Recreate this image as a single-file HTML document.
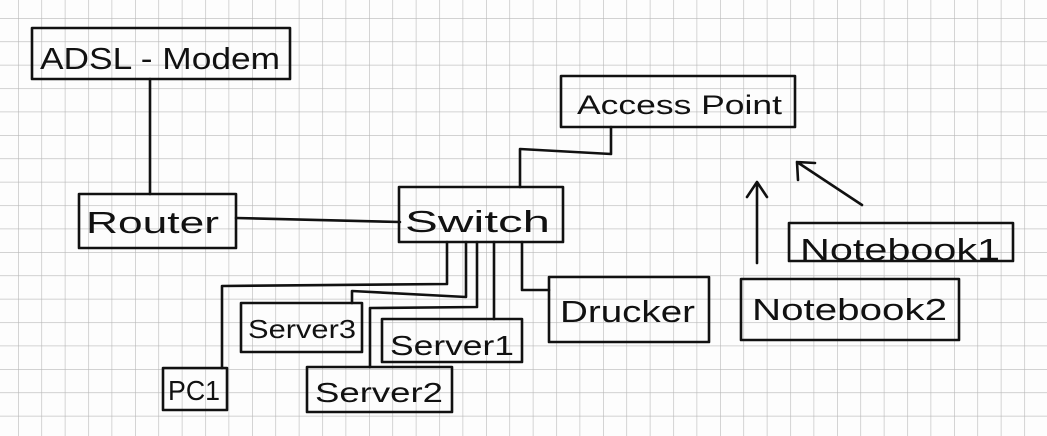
<!DOCTYPE html>
<html><head><meta charset="utf-8"><style>
html,body{margin:0;padding:0;background:#fff;}
svg{display:block}
text{font-family:"Liberation Sans",sans-serif;fill:#111;}
</style></head><body>
<svg width="1047" height="436" viewBox="0 0 1047 436" xmlns="http://www.w3.org/2000/svg">
<defs>
<pattern id="g" x="18" y="18" width="23.4" height="23.4" patternUnits="userSpaceOnUse">
<path d="M0 0H23.4M0 0V23.4" stroke="#b8b8b8" stroke-width="1.2" fill="none"/>
</pattern>
</defs>
<rect width="1047" height="436" fill="#fdfdfd"/>
<rect width="1047" height="436" fill="url(#g)"/>
<g fill="none" stroke="#111" stroke-width="2.6" stroke-linejoin="round" stroke-linecap="round">
<rect x="32" y="28" width="258" height="51"/>
<rect x="79" y="194" width="157" height="54"/>
<rect x="399" y="187" width="164" height="55"/>
<rect x="561" y="76" width="234" height="51"/>
<rect x="789" y="223" width="224" height="38"/>
<rect x="741" y="279" width="218" height="61"/>
<rect x="549" y="277" width="160" height="65"/>
<rect x="382" y="319" width="140" height="43"/>
<rect x="241" y="303" width="121" height="49"/>
<rect x="307" y="367" width="145" height="45"/>
<rect x="163" y="368" width="64" height="42"/>
<path d="M150 79V194"/>
<path d="M236 218L400 222"/>
<path d="M611 127V154L520 149V187"/>
<path d="M522 242V290H549"/>
<path d="M222 368V286L447 284V242"/>
<path d="M352 303V291L466 297V242"/>
<path d="M370 367V308L477 307V242"/>
<path d="M494 319V242"/>
<path d="M757 263V182M747 197L757 182L767 197"/>
<path d="M862 205L797 162M798 180L797 162L815 163"/>
</g>
<g font-size="31">
<text x="40" y="69" textLength="240" lengthAdjust="spacingAndGlyphs">ADSL - Modem</text>
<text x="86" y="233" textLength="133" lengthAdjust="spacingAndGlyphs">Router</text>
<text x="405" y="232" textLength="145" lengthAdjust="spacingAndGlyphs">Switch</text>
<text x="577" y="114" font-size="27" textLength="205" lengthAdjust="spacingAndGlyphs">Access Point</text>
<text x="800" y="260" textLength="200" lengthAdjust="spacingAndGlyphs">Notebook1</text>
<text x="752" y="320" textLength="195" lengthAdjust="spacingAndGlyphs">Notebook2</text>
<text x="560" y="322" textLength="135" lengthAdjust="spacingAndGlyphs">Drucker</text>
<text x="390" y="355" font-size="28" textLength="124" lengthAdjust="spacingAndGlyphs">Server1</text>
<text x="248" y="338" font-size="26" textLength="108" lengthAdjust="spacingAndGlyphs">Server3</text>
<text x="315" y="402" font-size="28" textLength="128" lengthAdjust="spacingAndGlyphs">Server2</text>
<text x="168" y="400" font-size="28" textLength="52" lengthAdjust="spacingAndGlyphs">PC1</text>
</g>
</svg>
</body></html>
